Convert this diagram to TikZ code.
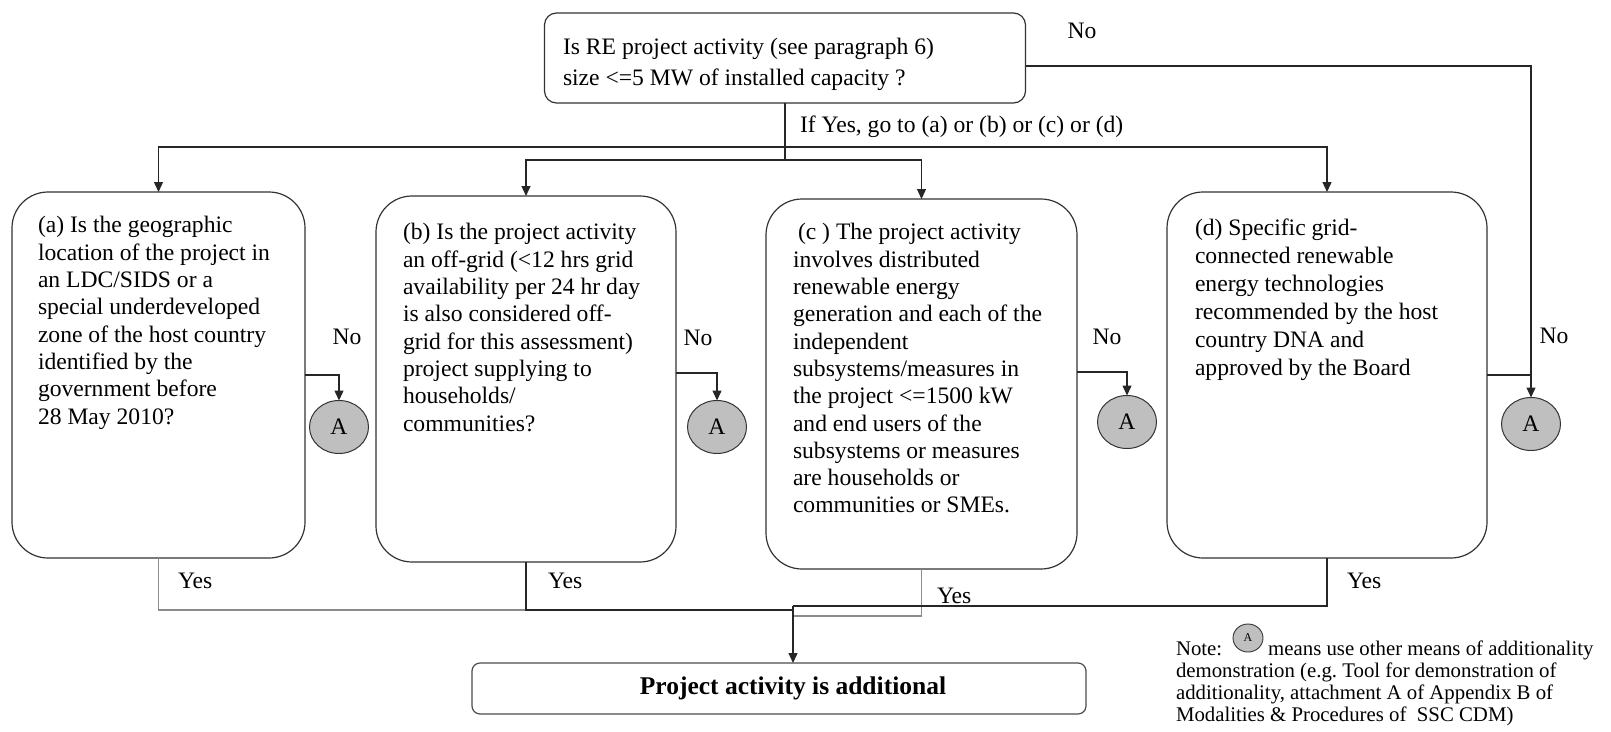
\documentclass[tikz,border=0pt]{standalone}
\usepackage{fontspec}
\setmainfont{Liberation Serif}
\usetikzlibrary{arrows.meta,shapes.geometric}
\begin{document}
\begin{tikzpicture}[x=1pt,y=-1pt,
  every node/.style={inner sep=0pt, outer sep=0pt},
  qbox/.style={draw=black!80, line width=1.2pt, rounded corners=36pt},
  body/.style={anchor=north west, align=left, font=\fontsize{23.6}{27.3}\selectfont},
  lab/.style={font=\fontsize{23.6}{27}\selectfont},
  circ/.style={ellipse, draw=black!80, fill=black!25, line width=1pt,
    minimum width=59pt, minimum height=53pt, font=\fontsize{23.6}{27}\selectfont},
  link/.style={draw=black!85, line width=1.3pt},
  faint/.style={draw=black!45, line width=1.3pt},
  arr/.style={link, -{Triangle[length=10pt,width=9pt]}}
]
\useasboundingbox (0,0) rectangle (1611,731);

% question boxes
\node[qbox, rounded corners=12pt, minimum width=481pt, minimum height=90pt] (q) at (785,58) {};
\node[body, font=\fontsize{23.6}{31}\selectfont] (qt) at (563,38.5)
  {Is RE project activity (see paragraph 6)\\size <=5 MW of installed capacity ?};

\node[qbox, minimum width=293pt, minimum height=366pt] (a) at (158.5,375) {};
\node[body] (at) at (38,216.6) {(a) Is the geographic\\location of the project in\\an LDC/SIDS or a\\special underdeveloped\\zone of the host country\\identified by the\\government before\\28 May 2010?};

\node[qbox, minimum width=300pt, minimum height=366pt] (b) at (526,379) {};
\node[body] (bt) at (403,223.6) {(b) Is the project activity\\an off-grid (<12 hrs grid\\availability per 24 hr day\\is also considered off-\\grid for this assessment)\\project supplying to\\households/\\communities?};

\node[qbox, minimum width=311pt, minimum height=370pt] (c) at (921.5,384) {};
\node[body] (ct) at (793,223.6) {\hspace*{5pt}(c ) The project activity\\involves distributed\\renewable energy\\generation and each of the\\independent\\subsystems/measures in\\the project <=1500 kW\\and end users of the\\subsystems or measures\\are households or\\communities or SMEs.};

\node[qbox, minimum width=320pt, minimum height=366pt] (d) at (1327,375) {};
\node[body, font=\fontsize{23.6}{28}\selectfont] (dt) at (1195,218.6) {(d) Specific grid-\\connected renewable\\energy technologies\\recommended by the host\\country DNA and\\approved by the Board};

% outcome box
\node[draw=black!70, line width=1.2pt, rounded corners=8pt, minimum width=614pt, minimum height=51pt] (fin) at (779,688.5) {};
\node[font=\fontsize{25.5}{30}\selectfont\bfseries] (fint) at (793,688) {Project activity is additional};

% connector "A" circles
\node[circ] (A1) at (339,427) {A};
\node[circ] (A2) at (717,427) {A};
\node[circ] (A3) at (1127,422) {A};
\node[circ] (A4) at (1531,424) {A};

% labels
\node[lab, anchor=base west] (iy) at (800,132) {If Yes, go to (a) or (b) or (c) or (d)};
\node[lab] (n0) at (1082,31) {No};
\node[lab] (n1) at (347,337) {No};
\node[lab] (n2) at (698,338) {No};
\node[lab] (n3) at (1107,337) {No};
\node[lab] (n4) at (1554,336) {No};
\node[lab, anchor=west] (y1) at (178,581) {Yes};
\node[lab, anchor=west] (y2) at (548,581) {Yes};
\node[lab, anchor=west] (y3) at (937,596) {Yes};
\node[lab, anchor=west] (y4) at (1347,581) {Yes};

% branching from the first question
\coordinate (j1) at (785,147);
\coordinate (j2) at (785,160);
\draw[link] (q.south) -- (j2);
\draw[arr] (j1) -| (a.north);
\draw[arr] (j1) -| (d.north);
\draw[arr] (j2) -| (b.north);
\draw[arr] (j2) -| (c.north);

% "No" branches
\draw[arr] ([yshift=-8pt]q.east) -| (A4.north);
\draw[arr] (a.east) -| (A1.north);
\draw[arr] ([yshift=6pt]b.east) -| (A2.north);
\draw[arr] ([yshift=12pt]c.east) -| (A3.north);
\draw[link] (d.east) -- (d.east -| A4.north);

% "Yes" branches merging into the outcome
\coordinate (m) at (793,606);
\coordinate (ma) at (793,610);
\coordinate (mc) at (793,616);
\draw[faint] (a.south) |- (ma);
\draw[link] (b.south) |- (ma);
\draw[faint] (c.south) |- (mc);
\draw[link] (d.south) |- (m);
\draw[arr] (m) -- (m |- fin.north);

% note
\node[anchor=north west, align=left, font=\fontsize{20.8}{22}\selectfont] (note) at (1176,641)
  {Note:\hspace{46pt}means use other means of additionality\\demonstration (e.g.\ Tool for demonstration of\\additionality, attachment A of Appendix B of\\Modalities \& Procedures of\ \ SSC CDM)};
\node[ellipse, draw=black!80, fill=black!25, line width=0.9pt, minimum width=30pt, minimum height=28pt,
  font=\fontsize{12}{14}\selectfont] (An) at (1248,638) {A};
\end{tikzpicture}
\end{document}
